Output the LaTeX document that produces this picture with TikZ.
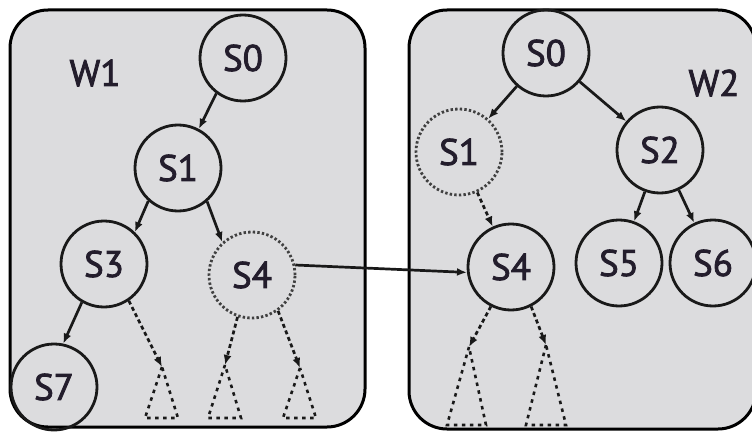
\documentclass[tikz,border=0pt]{standalone}
\usepackage{fontspec}
\setmainfont{PT Sans}[FakeBold=2.2]
\usetikzlibrary{arrows.meta}
\definecolor{boxfill}{HTML}{DCDCDE}
\definecolor{txt}{HTML}{231D2C}
\begin{document}
\begin{tikzpicture}[x=1pt,y=-1pt,
 wbox/.style={draw=black,line width=3pt,fill=boxfill,rounded corners=38pt},
 state/.style={circle,draw=black!90,line width=2.8pt,minimum size=86pt,inner sep=0pt,font=\fontsize{37}{37}\selectfont,text=txt},
 ghost/.style={state,draw=black!75,dash pattern=on 2.4pt off 2.2pt},
 edge/.style={line width=2.7pt,draw=black!90,-{Latex[length=10pt,width=8pt]}},
 dedge/.style={edge,dash pattern=on 4pt off 3pt},
 subtree/.style={line width=2.6pt,draw=black!90,dash pattern=on 3.5pt off 4.5pt},
 lbl/.style={font=\fontsize{37}{37}\selectfont,text=txt}]
\useasboundingbox (0,0) rectangle (752,433);
\draw[wbox] (10,10) rectangle (365,427);
\draw[wbox] (409,10) rectangle (756,429);
% left tree
\node[lbl] (w1) at (95,73) {W1};
\node[state] (a0) at (243,58) {S0};
\node[state] (a1) at (178,168) {S1};
\node[state] (a3) at (104,264) {S3};
\node[ghost] (a4) at (252,275) {S4};
\node[state] (a7) at (54,387) {S7};
\coordinate (t1) at (162,367);
\coordinate (t2) at (225,365);
\coordinate (t3) at (300,368);
\draw[subtree] (t1) -- (145,418) -- (178,418) -- cycle;
\draw[subtree] (t2) -- (208,418) -- (241,418) -- cycle;
\draw[subtree] (t3) -- (283,418) -- (316,418) -- cycle;
\draw[edge] (a0.233) -- (a1.62);
\draw[edge] (a1.228) -- (a3.46);
\draw[edge] (a1.311) -- (a4.132);
\draw[edge] (a3.240) -- (a7.78);
\draw[dedge] (a3.304) -- (t1);
\draw[dedge] (a4.251) -- (t2);
\draw[dedge] (a4.306) -- (t3);
% right tree
\node[lbl] (w2) at (714,83) {W2};
\node[state] (b0) at (546,53) {S0};
\node[ghost] (b1) at (459,152) {S1};
\node[state] (b2) at (660,150) {S2};
\node[state] (b4) at (511,267) {S4};
\node[state] (b5) at (619,263) {S5};
\node[state] (b6) at (713,263) {S6};
\coordinate (u1) at (469,347);
\coordinate (u2) at (546,345);
\draw[subtree] (u1) -- (447,425) -- (486,425) -- cycle;
\draw[subtree] (u2) -- (526,425) -- (566,425) -- cycle;
\draw[edge] (b0) -- (b1);
\draw[edge] (b0) -- (b2);
\draw[dedge] (b1) -- (b4);
\draw[edge] (b2) -- (b5);
\draw[edge] (b2) -- (b6);
\draw[dedge] (b4.243) -- (u1);
\draw[dedge] (b4.297) -- (u2);
% cross link
\draw[edge] (a4.13) -- (b4.187);
\end{tikzpicture}
\end{document}
